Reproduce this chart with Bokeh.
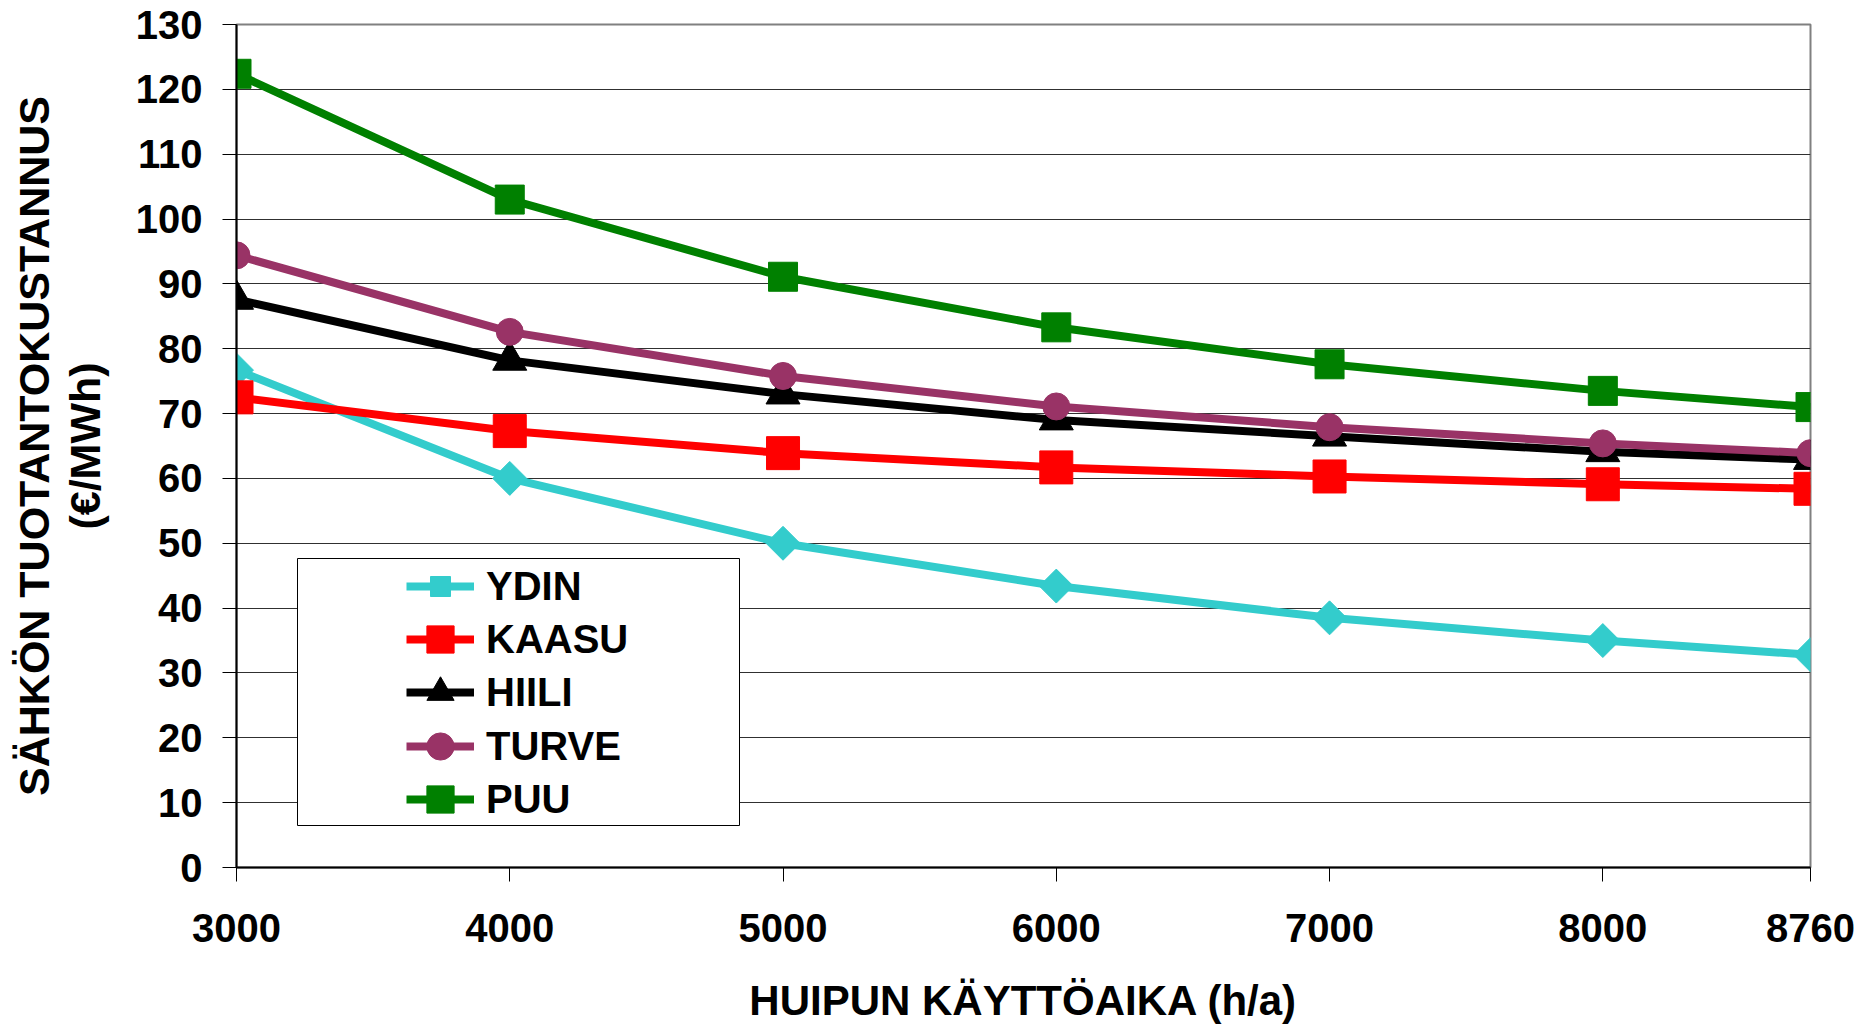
import numpy as np
from bokeh.plotting import figure
from bokeh.models import FixedTicker, Legend, LegendItem, BoxAnnotation
from bokeh.embed import file_html
from bokeh.resources import INLINE

# ---- data ----
hours = [3000, 4000, 5000, 6000, 7000, 8000, 8760]
ydin = [76.7, 60.0, 50.0, 43.4, 38.5, 35.0, 32.8]
kaasu = [72.5, 67.3, 63.9, 61.7, 60.3, 59.1, 58.4]
hiili = [87.6, 78.2, 73.0, 69.0, 66.5, 64.1, 62.9]
turve = [94.4, 82.6, 75.8, 71.1, 67.9, 65.4, 63.9]
puu = [122.4, 103.0, 91.1, 83.3, 77.6, 73.5, 71.0]
series_names = ["YDIN", "KAASU", "HIILI", "TURVE", "PUU"]
x_ticks = [3000, 4000, 5000, 6000, 7000, 8000, 8760]
y_ticks = list(range(0, 131, 10))
x_title = "HUIPUN KÄYTTÖAIKA (h/a)"
y_title = "SÄHKÖN TUOTANTOKUSTANNUS\n(€/MWh)"

FONT = "Liberation Sans"

W, H = 1858, 1026
p = figure(width=W, height=H, output_backend="svg", toolbar_location=None,
           x_range=(3000, 8760), y_range=(0, 130),
           min_border_left=236, min_border_right=48,
           min_border_top=24, min_border_bottom=158)
p.background_fill_color = "white"
p.border_fill_color = "white"
p.outline_line_color = "#808080"
p.outline_line_width = 2

p.xgrid.grid_line_color = None
p.ygrid.grid_line_color = "#303030"
p.ygrid.grid_line_width = 1
p.ygrid.ticker = FixedTicker(ticks=y_ticks)

for ax in (p.xaxis[0], p.yaxis[0]):
    ax.axis_line_color = "black"
    ax.axis_line_width = 2
    ax.major_tick_line_color = "black"
    ax.major_tick_line_width = 1
    ax.major_tick_in = 0
    ax.major_tick_out = 14
    ax.minor_tick_line_color = None
    ax.major_label_text_font = FONT
    ax.major_label_text_font_style = "bold"
    ax.major_label_text_color = "black"
    ax.axis_label_text_font = FONT
    ax.axis_label_text_font_style = "bold"
    ax.axis_label_text_color = "black"

p.xaxis.ticker = FixedTicker(ticks=x_ticks)
p.yaxis.ticker = FixedTicker(ticks=y_ticks)
p.xaxis.major_label_text_font_size = "40px"
p.yaxis.major_label_text_font_size = "40px"
p.xaxis.axis_label_text_font_size = "42px"
p.yaxis.axis_label_text_font_size = "43px"
p.xaxis.major_label_standoff = 32
p.yaxis.major_label_standoff = 20
p.xaxis.axis_label = x_title
p.yaxis.axis_label = y_title
p.xaxis.axis_label_standoff = 32
p.yaxis.axis_label_standoff = 24
p.yaxis.axis_label_text_line_height = 1.05

colors = ["#33CCCC", "#FF0000", "#000000", "#993366", "#008000"]
data = [ydin, kaasu, hiili, turve, puu]
markers = ["square", "square", "triangle", "circle", "square"]
sizes = [24, 33, 34, 27, 29]
angles = [np.pi / 4, 0, 0, 0, 0]
legend_glyph_h = [50, 70, 70, 70, 70]

box = BoxAnnotation(left=61, right=503, bottom=42, top=309,
                    left_units="screen", right_units="screen",
                    bottom_units="screen", top_units="screen",
                    fill_color="white", fill_alpha=1.0,
                    line_color="black", line_width=1, line_alpha=1.0)
p.add_layout(box)

row_pitch = 53.3
first_center = 281.4  # px above frame bottom
for k, (name, ys, c, m, s, a, gh) in enumerate(zip(series_names, data, colors, markers,
                                                   sizes, angles, legend_glyph_h)):
    ln = p.line(hours, ys, line_color=c, line_width=8, line_join="round")
    sc = p.scatter(hours, ys, marker=m, size=s, angle=a, fill_color=c, line_color=c, line_width=1)
    center = first_center - k * row_pitch
    lg = Legend(items=[LegendItem(label=name, renderers=[ln, sc])],
                location=(170, int(round(center - gh / 2))), margin=0, padding=0,
                spacing=0, glyph_width=68, glyph_height=gh, label_height=gh,
                label_standoff=12,
                label_text_font=FONT, label_text_font_style="bold",
                label_text_font_size="40px", label_text_color="black",
                border_line_color=None, background_fill_alpha=0)
    p.add_layout(lg, "center")

open("out.html", "w").write(file_html(p, INLINE))
